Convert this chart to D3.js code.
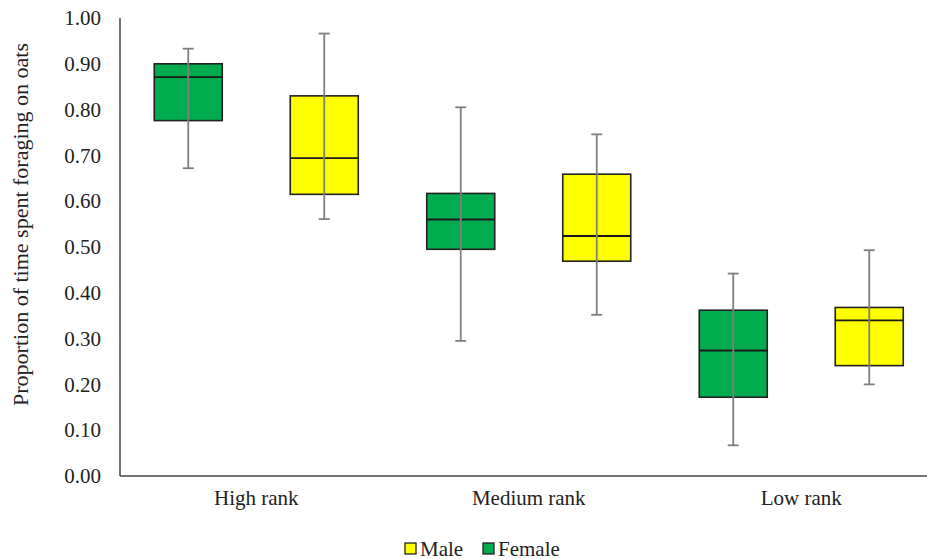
<!DOCTYPE html>
<html>
<head>
<meta charset="utf-8">
<script src="https://cdn.jsdelivr.net/npm/d3@7/dist/d3.min.js"></script>
<style>
  html, body { margin: 0; padding: 0; background: #fff; }
  svg { display: block; }
  svg text { font-family: "Liberation Serif", "Times New Roman", Times, "DejaVu Serif", serif; }
</style>
</head>
<body>
<svg id="chart" width="927" height="559"></svg>
<script>
// Rank groups and the two sexes plotted in each
const categories = ["High rank", "Medium rank", "Low rank"];
const seriesNames = ["Female", "Male"];
const seriesColors = ["#00AC4E", "#FFFF00"];

// Five-number summaries per group: [min, q1, median, q3, max]
const femaleStats = [
  [0.672, 0.776, 0.871, 0.900, 0.933],
  [0.295, 0.495, 0.560, 0.617, 0.805],
  [0.067, 0.172, 0.274, 0.362, 0.442]
];
const maleStats = [
  [0.561, 0.615, 0.694, 0.830, 0.966],
  [0.352, 0.469, 0.524, 0.659, 0.746],
  [0.200, 0.241, 0.340, 0.368, 0.493]
];
const yTicks = [0, 0.1, 0.2, 0.3, 0.4, 0.5, 0.6, 0.7, 0.8, 0.9, 1.0];
const legendOrder = ["Male", "Female"];

const svg = d3.select("#chart");
const plotLeft = 120, plotRight = 937.5, plotTop = 18, plotBottom = 476;

const x = d3.scaleBand().domain(categories).range([plotLeft, plotRight]);
// Two boxes per group, one box-width apart
const sub = d3.scaleBand().domain(seriesNames).range([-102, 102]).paddingInner(0.5);
const y = d3.scaleLinear().domain([0, 1]).range([plotBottom, plotTop]);

// Y axis labels
const yAxis = d3.axisLeft(y).tickValues(yTicks).tickFormat(d3.format(".2f")).tickSize(0).tickPadding(19);
const gy = svg.append("g").attr("transform", `translate(${plotLeft},0)`).call(yAxis)
  .attr("font-family", null).attr("font-size", 21);
gy.select(".domain").remove();
gy.selectAll("text").attr("fill", "#222");

// X axis labels
const xAxis = d3.axisBottom(x).tickSize(0).tickPadding(14);
const gx = svg.append("g").attr("transform", `translate(0,${plotBottom})`).call(xAxis)
  .attr("font-family", null).attr("font-size", 21);
gx.select(".domain").remove();
gx.selectAll("text").attr("fill", "#222");

// Axis lines
svg.append("line").attr("x1", plotLeft).attr("x2", plotLeft).attr("y1", y(1)).attr("y2", plotBottom)
  .attr("stroke", "#444").attr("stroke-width", 1.5);
svg.append("line").attr("x1", plotLeft).attr("x2", 927).attr("y1", plotBottom).attr("y2", plotBottom)
  .attr("stroke", "#444").attr("stroke-width", 1.5);

// Boxes
const boxes = [];
categories.forEach((c, i) => {
  boxes.push({ cat: c, s: "Female", v: femaleStats[i], color: seriesColors[0] });
  boxes.push({ cat: c, s: "Male", v: maleStats[i], color: seriesColors[1] });
});

const g = svg.append("g");
boxes.forEach(b => {
  const x0 = x(b.cat) + x.bandwidth() / 2 + sub(b.s);
  const w = sub.bandwidth();
  const cx = x0 + w / 2;
  const [mn, q1, med, q3, mx] = b.v;
  g.append("rect").attr("x", x0).attr("y", y(q3)).attr("width", w).attr("height", y(q1) - y(q3))
    .attr("fill", b.color).attr("stroke", "#222").attr("stroke-width", 1.6);
  g.append("line").attr("x1", x0).attr("x2", x0 + w).attr("y1", y(med)).attr("y2", y(med))
    .attr("stroke", "#1a1a1a").attr("stroke-width", 1.8);
  g.append("line").attr("x1", cx).attr("x2", cx).attr("y1", y(mx)).attr("y2", y(mn))
    .attr("stroke", "#7f7f7f").attr("stroke-width", 1.8);
  [mn, mx].forEach(v => {
    g.append("line").attr("x1", cx - 5.5).attr("x2", cx + 5.5).attr("y1", y(v)).attr("y2", y(v))
      .attr("stroke", "#7f7f7f").attr("stroke-width", 1.8);
  });
});

// Y axis title
svg.append("text")
  .attr("transform", "translate(28,224.5) rotate(-90)")
  .attr("text-anchor", "middle").attr("font-size", 22).attr("fill", "#222")
  .text("Proportion of time spent foraging on oats");

// Legend
const legendX = [405, 483];
legendOrder.forEach((name, i) => {
  const lg = svg.append("g").attr("transform", `translate(${legendX[i]},543)`);
  lg.append("rect").attr("width", 11).attr("height", 11)
    .attr("fill", seriesColors[seriesNames.indexOf(name)]).attr("stroke", "#222").attr("stroke-width", 1.3);
  lg.append("text").attr("x", 15).attr("y", 12.5).attr("font-size", 21).attr("fill", "#222").text(name);
});
</script>
</body>
</html>
